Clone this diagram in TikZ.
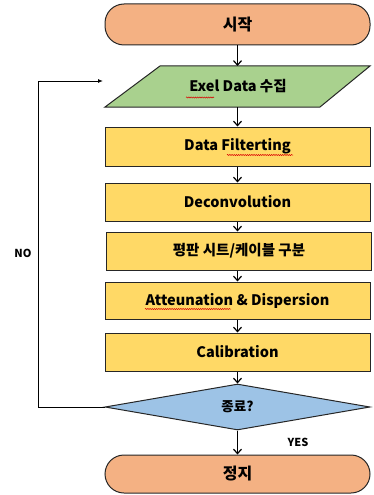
\documentclass[tikz,border=0pt]{standalone}
\usepackage{fontspec}
\setmainfont{Noto Sans CJK KR}
\usetikzlibrary{shapes.geometric,arrows.meta,decorations.pathmorphing}
\definecolor{termfill}{RGB}{244,177,131}
\definecolor{infill}{RGB}{169,209,142}
\definecolor{procfill}{RGB}{255,217,102}
\definecolor{decfill}{RGB}{157,195,230}
\begin{document}
\begin{tikzpicture}[x=1pt,y=-1pt,
  outline/.style={draw=black!85,line width=1pt},
  terminal/.style={outline,fill=termfill,minimum width=265pt,minimum height=#1,
    rounded corners=19pt,font=\bfseries\fontsize{16}{18}\selectfont,inner sep=0pt},
  procbox/.style={outline,fill=procfill,minimum width=265pt,minimum height=#1,
    font=\bfseries\fontsize{14.5}{16}\selectfont,inner sep=0pt},
  flow/.style={line width=1.2pt,-{Straight Barb[length=4.5pt,width=8pt,line width=1.2pt]}},
  loopline/.style={line width=0.9pt,-{Latex[length=5pt,width=4pt]}},
  label/.style={font=\bfseries\fontsize{11}{13}\selectfont,inner sep=0pt},
  spell/.style={draw=red!85!black,line width=0.5pt,decorate,
    decoration={snake,amplitude=0.6pt,segment length=2.2pt}}]
\useasboundingbox (0,0) rectangle (373,495);

% start terminal
\node[terminal=41pt] (start) at (237.5,24.5) {시작};

% data input (parallelogram drawn around its label)
\draw[outline,fill=infill] (105,107) -- (160,66) -- (370,66) -- (320,107) -- cycle;
\node[font=\bfseries\fontsize{14.5}{16}\selectfont,inner sep=0pt] (input) at (238,86.5) {Exel Data 수집};
\coordinate (inTop) at (237.5,66);
\coordinate (inBot) at (237.5,107);

% processing steps
\node[procbox=39pt] (filt) at (237.5,146.5) {Data Filterting};
\node[procbox=38pt] (deconv) at (237.5,202) {Deconvolution};
\node[procbox=38pt] (split) at (239,251) {평판 시트/케이블 구분};
\node[procbox=37pt] (atten) at (237.5,300.5) {Atteunation \& Dispersion};
\node[procbox=38pt] (calib) at (237.5,352) {Calibration};

% decision
\node[diamond,outline,fill=decfill,minimum width=265pt,minimum height=46pt,inner sep=0pt,
  font=\bfseries\fontsize{13.5}{15}\selectfont] (done) at (237.5,407) {종료?};

% stop terminal
\node[terminal=38pt] (stop) at (237.5,474) {정지};

% main flow
\draw[flow] (start.south) -- (inTop);
\draw[flow] (inBot) -- (filt.north);
\draw[flow] (filt.south) -- (deconv.north);
\draw[flow] (deconv.south) -- (split.north -| filt.north);
\draw[flow] (split.south -| filt.south) -- (atten.north);
\draw[flow] (atten.south) -- (calib.north);
\draw[flow] (calib.south) -- (done.north);
\draw[flow] (done.south) -- (stop.north);

% loop back
\coordinate (loopEnd) at (103,81);
\draw[loopline] (done.west) -- (38,407) -- (38,81) -- (loopEnd);

\node[label] (no) at (23,253) {NO};
\node[label] (yes) at (298,442) {YES};

% spell-check marks
\draw[spell] (186,97.5) -- (214,97.5);
\draw[spell] (227,155) -- (293,155);
\draw[spell] (145,309) -- (231,309);
\end{tikzpicture}
\end{document}
